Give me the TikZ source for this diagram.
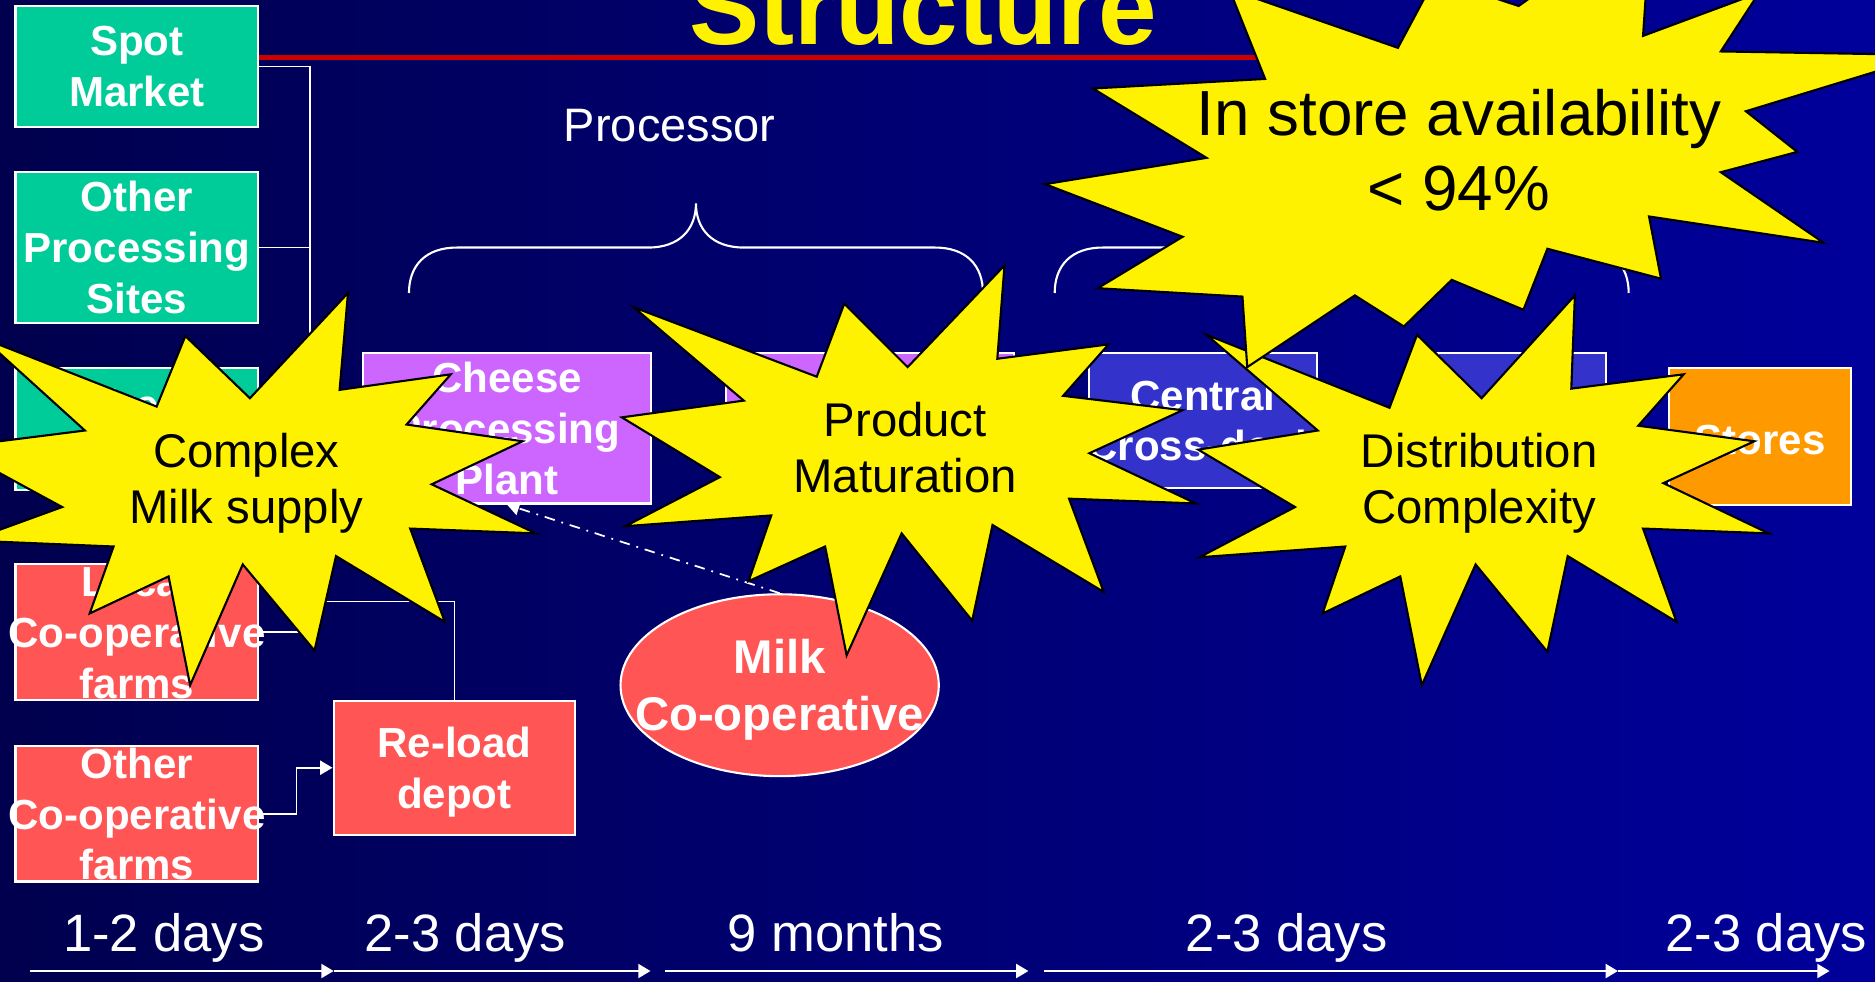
\documentclass[tikz,border=0pt]{standalone}
\usepackage{fontspec}
\setmainfont{Liberation Sans}
\usetikzlibrary{positioning,arrows.meta,shapes.geometric}

\definecolor{bgleft}{RGB}{0,0,78}
\definecolor{bgright}{RGB}{0,0,155}
\definecolor{supplygreen}{RGB}{0,204,153}
\definecolor{farmred}{RGB}{255,85,85}
\definecolor{plantpurple}{RGB}{204,102,255}
\definecolor{distblue}{RGB}{51,51,204}
\definecolor{storeorange}{RGB}{255,153,0}
\definecolor{titlered}{RGB}{204,0,0}

\tikzset{
  box/.style={draw=white, line width=0.6pt, text=white, align=center,
    inner xsep=-4mm, inner ysep=0pt, text depth=0pt,
    execute at begin node={\rule{0pt}{0.85em}},
    font=\fontsize{12}{14.5}\selectfont\bfseries},
  supply/.style={box, fill=supplygreen, minimum width=2.436cm},
  farm/.style={box, fill=farmred},
  plant/.style={box, fill=plantpurple, minimum width=2.88cm, minimum height=1.512cm},
  depot/.style={box, fill=distblue, minimum height=1.356cm},
  link/.style={draw=white, line width=0.5pt},
  brace/.style={draw=white, line width=0.6pt},
  timeline/.style={draw=white, line width=0.6pt, ->},
  burst/.style={fill=yellow, draw=black, line width=0.6pt, line join=miter},
  bursttext/.style={align=center, text=black, font=\fontsize{13.5}{16}\selectfont},
  daylabel/.style={anchor=base, text=white, font=\fontsize{15}{18}\selectfont}
}

\begin{document}
\begin{tikzpicture}[x=0.012cm, y=-0.012cm, on grid, >={Triangle[width=4pt,length=3.5pt]}]
  \useasboundingbox (0,0) rectangle (1568,821);
  \clip (0,0) rectangle (1568,821);
  \shade[left color=bgleft, right color=bgright] (0,0) rectangle (1568,821);

  % title
  \node[anchor=base, text=yellow, font=\fontsize{30}{36}\selectfont\bfseries] (title) at (772,37) {Structure};

  % milk sources
  \node[supply, minimum height=1.212cm] (spot) at (114.5,55.5) {Spot\\Market};
  \node[supply, minimum height=1.512cm] (otherproc) at (114.5,207) {Other\\Processing\\Sites};
  \node[supply, minimum height=1.224cm] (direct) at (114.5,359) {Direct\\Supply};
  \node[farm, minimum width=2.436cm, minimum height=1.356cm] (localfarms) at (114.5,528.5) {Local\\Co-operative\\farms};
  \node[farm, minimum width=2.436cm, minimum height=1.356cm] (otherfarms) [below=1.824cm of localfarms] {Other\\Co-operative\\farms};
  \node[farm, minimum width=2.424cm, minimum height=1.344cm] (reload) at (380,642) {Re-load\\depot};

  \draw[titlered, line width=1.4pt] (spot.east |- 0,48) -- (1120,48);

  % processor and retail
  \node[plant] (cheese) at (424,358) {Cheese\\Processing\\Plant};
  \node[plant, minimum width=2.892cm] (maturing) [right=3.642cm of cheese] {};
  \node[depot, minimum width=2.28cm] (central) at (1006,351.5) {Central\\Cross-dock};
  \node[depot, minimum width=1.692cm] (regional) [right=3.198cm of central] {};
  \node[box, fill=storeorange, minimum width=1.824cm, minimum height=1.368cm] (stores) at (1472,365) {Stores};
  \node[box, ellipse, fill=farmred, inner sep=-4mm, minimum width=3.192cm, minimum height=1.824cm,
    font=\fontsize{13.5}{16.3}\selectfont\bfseries] (milk) at (652,573) {Milk\\Co-operative};

  % connectors
  \coordinate (busend) at (259,529);
  \coordinate (reloadjoin) at (259,503);
  \draw[link] (spot.east) -| (busend);
  \draw[link] (otherproc.east) -- (otherproc.east -| busend);
  \draw[link] (direct.east) -- (direct.east -| busend);
  \draw[link] (localfarms.east) -- (localfarms.east -| busend);
  \draw[link] (reload.north) |- (reloadjoin);
  \draw[link, ->] (cheese.west -| busend) -- (cheese.west);
  \draw[link, ->] (otherfarms.east) -- ++(31,0) |- (reload.west);
  \draw[link, ->, dash dot] (milk.north) -- (cheese.south);

  % braces
  \node[text=white, font=\fontsize{13.4}{16}\selectfont] (proclabel) at (560,105) {Processor};
  \foreach \bx in {0,540}
    \draw[brace, shift={(\bx,0)}] (342,245) .. controls (342,222) and (356,207) .. (382,207) -- (542,207)
      .. controls (568,207) and (582,192) .. (582,170) .. controls (582,192) and (596,207) .. (622,207)
      -- (782,207) .. controls (808,207) and (822,222) .. (822,245);

  % time line
  \coordinate (t0) at (25,812);
  \coordinate (t1) at (279,812);
  \coordinate (t2) at (544,812);
  \coordinate (t3) at (556,812);
  \coordinate (t4) at (860,812);
  \coordinate (t5) at (873,812);
  \coordinate (t6) at (1353,812);
  \coordinate (t7) at (1530,812);
  \draw[timeline] (t0) -- (t1);
  \draw[timeline] (t1) -- (t2);
  \draw[timeline] (t3) -- (t4);
  \draw[timeline] (t5) -- (t6);
  \draw[timeline] (t6) -- (t7);
  \node[daylabel] (d1) at (137,796) {1-2 days};
  \node[daylabel] (d2) at (389,796) {2-3 days};
  \node[daylabel] (d3) at (699,796) {9 months};
  \node[daylabel] (d4) at (1076,796) {2-3 days};
  \node[daylabel] (d5) at (1477,796) {2-3 days};

  % bursts
  \draw[burst] (291,245) -- (284,326) -- (377,313) -- (340,355) -- (437,369) -- (361,405)
    -- (448,446) -- (343,442) -- (372,520) -- (281,465) -- (263,544) -- (203,472)
    -- (159,573) -- (141,482) -- (75,513) -- (95,457) -- (-25,452) -- (52,424)
    -- (-40,374) -- (71,360) -- (-14,283) -- (131,340) -- (155,281) -- (209,333) -- cycle;
  \draw[burst] (530,257) -- (683,315) -- (706,254) -- (759,307) -- (840,222) -- (834,300)
    -- (927,288) -- (889,331) -- (989,343) -- (911,379) -- (1000,421) -- (894,417)
    -- (923,495) -- (830,439) -- (813,519) -- (754,446) -- (708,548) -- (690,457)
    -- (626,486) -- (645,431) -- (523,440) -- (602,399) -- (520,349) -- (622,335) -- cycle;
  \draw[burst] (1185,280) -- (1239,333) -- (1317,247) -- (1314,325) -- (1408,313) -- (1370,356)
    -- (1467,369) -- (1391,404) -- (1479,446) -- (1374,442) -- (1402,520) -- (1311,465)
    -- (1294,545) -- (1234,472) -- (1189,573) -- (1171,482) -- (1106,513) -- (1125,457)
    -- (1003,466) -- (1083,424) -- (1002,376) -- (1102,360) -- (1009,280) -- (1162,341) -- cycle;
  \draw[burst] (1439,43) -- (1614,46) -- (1460,93) -- (1503,127) -- (1439,144) -- (1525,203)
    -- (1379,181) -- (1389,233) -- (1294,208) -- (1274,259) -- (1214,234) -- (1174,273)
    -- (1133,247) -- (1043,307) -- (1039,248) -- (918,241) -- (989,198) -- (874,154)
    -- (1009,132) -- (914,74) -- (1058,66) -- (1028,-9) -- (1169,40) -- (1200,-18)
    -- (1270,5) -- (1381,-74) -- (1374,30) -- (1471,-6) -- cycle;

  \node[bursttext] (milkissue) at (206,404) {Complex\\Milk supply};
  \node[bursttext] (maturation) at (757,374) {Product\\Maturation};
  \node[bursttext] (distissue) at (1237,404) {Distribution\\Complexity};
  \node[bursttext, font=\fontsize{18.2}{21.4}\selectfont] (availability) at (1220,126) {In store availability\\< 94\%};
\end{tikzpicture}
\end{document}
